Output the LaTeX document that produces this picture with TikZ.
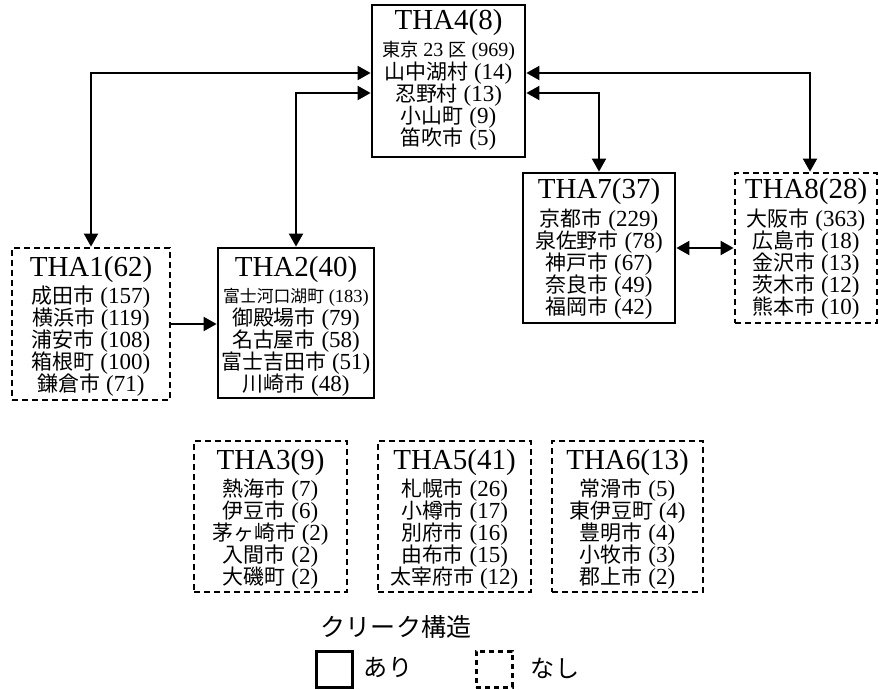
\documentclass[tikz,border=0pt]{standalone}
\usepackage{fontspec}
\setmainfont{Liberation Serif}
\newfontfamily\jp[Scale=0.91]{Noto Sans CJK JP}
\newcommand\J[1]{{\jp #1}}
\usetikzlibrary{arrows.meta}
\tikzset{
  cliq/.style={draw, line width=2.8pt, inner sep=0pt},
  noclq/.style={draw, line width=2.8pt, dash pattern=on 6pt off 4pt, inner sep=0pt},
  ttl/.style={font=\fontsize{29}{29}\selectfont, inner sep=0pt},
  bdy/.style={font=\fontsize{23}{23}\selectfont, inner sep=0pt},
  arr/.style={line width=2pt, {Triangle[length=13pt,width=14pt]}-{Triangle[length=13pt,width=14pt]}},
  arrone/.style={line width=2pt, -{Triangle[length=13pt,width=14pt]}},
}
\newcommand\boxlines[4]{%
  \foreach \t [count=\i] in {#4} {\node[bdy] (#1-\i) at (#2,{#3+(\i-1)*22}) {\t};}}
\begin{document}
\begin{tikzpicture}[x=1pt,y=-1pt]
\useasboundingbox (0,0) rectangle (879,690);
% boxes
\node[cliq, minimum width=153pt, minimum height=152pt] (tha4) at (448.5,81) {};
\node[noclq, minimum width=158pt, minimum height=152pt] (tha1) at (91,324) {};
\node[cliq, minimum width=156pt, minimum height=150pt] (tha2) at (296,323) {};
\node[cliq, minimum width=152pt, minimum height=150pt] (tha7) at (599,248) {};
\node[noclq, minimum width=142pt, minimum height=150pt] (tha8) at (806,248) {};
\node[noclq, minimum width=153pt, minimum height=151pt] (tha3) at (270.5,516.5) {};
\node[noclq, minimum width=153pt, minimum height=151pt] (tha5) at (454.5,516.5) {};
\node[noclq, minimum width=151pt, minimum height=151pt] (tha6) at (627.5,516.5) {};
% titles
\node[ttl] (tha4t) at (448.5,23) {THA4(8)};
\node[ttl] (tha1t) at (91,270) {THA1(62)};
\node[ttl] (tha2t) at (296,270) {THA2(40)};
\node[ttl] (tha7t) at (599,192) {THA7(37)};
\node[ttl] (tha8t) at (806,192) {THA8(28)};
\node[ttl] (tha3t) at (270.5,463) {THA3(9)};
\node[ttl] (tha5t) at (454.5,463) {THA5(41)};
\node[ttl] (tha6t) at (627.5,463) {THA6(13)};
% lines
\boxlines{tha4}{448.5}{51}{{\fontsize{20}{20}\selectfont\J{東京} 23 \J{区} (969)},\J{山中湖村} (14),\J{忍野村} (13),\J{小山町} (9),\J{笛吹市} (5)}
\boxlines{tha1}{91}{297}{\J{成田市} (157),\J{横浜市} (119),\J{浦安市} (108),\J{箱根町} (100),\J{鎌倉市} (71)}
\boxlines{tha2}{296}{297}{{\fontsize{18.5}{18.5}\selectfont\J{富士河口湖町} (183)},\J{御殿場市} (79),\J{名古屋市} (58),\J{富士吉田市} (51),\J{川崎市} (48)}
\boxlines{tha7}{599}{220}{\J{京都市} (229),\J{泉佐野市} (78),\J{神戸市} (67),\J{奈良市} (49),\J{福岡市} (42)}
\boxlines{tha8}{806}{220}{\J{大阪市} (363),\J{広島市} (18),\J{金沢市} (13),\J{茨木市} (12),\J{熊本市} (10)}
\boxlines{tha3}{270.5}{490}{\J{熱海市} (7),\J{伊豆市} (6),\J{茅ヶ崎市} (2),\J{入間市} (2),\J{大磯町} (2)}
\boxlines{tha5}{454.5}{490}{\J{札幌市} (26),\J{小樽市} (17),\J{別府市} (16),\J{由布市} (15),\J{太宰府市} (12)}
\boxlines{tha6}{627.5}{490}{\J{常滑市} (5),\J{東伊豆町} (4),\J{豊明市} (4),\J{小牧市} (3),\J{郡上市} (2)}
% connectors
\draw[arr] (tha1.north) |- ([yshift=8pt]tha4.west);
\draw[arr] (tha2.north) |- ([yshift=-12pt]tha4.west);
\draw[arr] ([yshift=-12pt]tha4.east) -| (tha7.north);
\draw[arr] ([yshift=8pt]tha4.east) -| ([xshift=4pt]tha8.north);
\draw[arrone] (tha1.east) -- (tha1.east -| tha2.west);
\draw[arr] (tha7.east) -- (tha8.west);
% legend
\node[font=\fontsize{27.5}{27.5}\selectfont\jp, inner sep=0pt] (lgt) at (396,627) {クリーク構造};
\node[cliq, line width=3pt, minimum width=36pt, minimum height=36pt] (lgs) at (334,669) {};
\node[font=\fontsize{26.5}{26.5}\selectfont\jp, inner sep=0pt] (lgst) at (388,668) {あり};
\node[noclq, line width=3pt, dash pattern=on 5pt off 4pt, minimum width=36pt, minimum height=36pt] (lgd) at (494,669) {};
\node[font=\fontsize{26.5}{26.5}\selectfont\jp, inner sep=0pt] (lgdt) at (555,668) {なし};
\end{tikzpicture}
\end{document}
